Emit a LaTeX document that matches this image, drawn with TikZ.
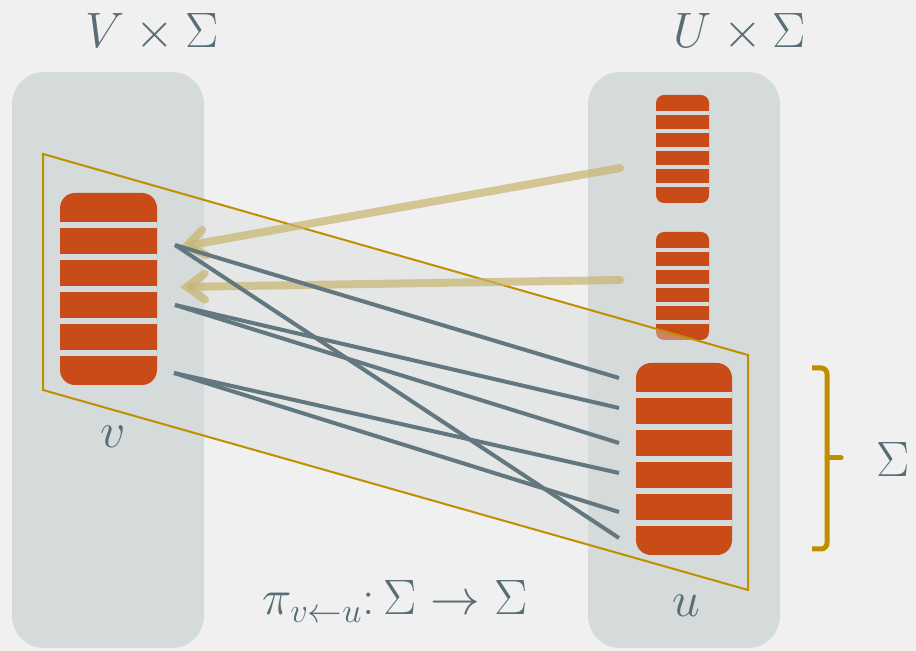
\documentclass[tikz,border=0pt]{standalone}
\usepackage{amsmath}
\usetikzlibrary{arrows.meta,calc}
\definecolor{bgcol}{RGB}{240,240,240}
\definecolor{colgrey}{RGB}{213,219,219}
\definecolor{blkorange}{RGB}{201,75,24}
\definecolor{planegold}{RGB}{191,143,0}
\definecolor{slate}{RGB}{98,119,127}
\definecolor{txtslate}{RGB}{88,110,118}
\definecolor{tan}{RGB}{200,180,110}
\def \fs{\fontsize{25}{30}\selectfont}

\begin{document}
\begin{tikzpicture}[x=0.5pt, y=-0.5pt,
    col/.style={fill=colgrey, rounded corners=16pt, minimum width=96pt, minimum height=288pt, inner sep=0pt},
    blk/.style={fill=blkorange, inner sep=0pt, outer sep=0pt},
    stripe/.style={draw=colgrey, line width=2.6pt},
    plane/.style={draw=planegold, line width=1pt, fill=colgrey, fill opacity=0.4},
    map/.style={draw=slate, line width=2pt},
    proj/.style={draw=tan, draw opacity=0.7, line width=4pt, line cap=round, -{Straight Barb[length=9pt,width=13pt,line cap=round]}},
    brace/.style={draw=planegold, line width=2.5pt, rounded corners=3pt},
    lbl/.style={text=txtslate, font=\fs, anchor=base, inner sep=0pt}]
    \fill[bgcol] (0,0) rectangle (916,651);
    \useasboundingbox (0,0) rectangle (916,651);
    % columns
    \node[col] (lcol) at (108,360) {};
    \node[col] (rcol) at (684,360) {};
    \node[lbl] (vtitle) at (152,48) {$V\times\Sigma$};
    \node[lbl] (utitle) at (740,48) {$U\times\Sigma$};
    % the other elements of U
    \node[blk, rounded corners=4pt, minimum width=26.5pt, minimum height=54pt] (s1) at (682.5,149) {};
    \node[blk, rounded corners=4pt, minimum width=26.5pt, minimum height=54pt] (s2) at (682.5,286) {};
    \foreach \b in {s1,s2}
      \foreach \i in {1,...,5}
        \draw[stripe, line width=2.2pt] ($(\b.north west)!\i/6!(\b.south west)$) -- ($(\b.north east)!\i/6!(\b.south east)$);
    % the constraint
    \draw[plane] (43,154) -- (748,355) -- (748,590) -- (43,390) -- cycle;
    \node[blk, rounded corners=7.5pt, minimum width=48.5pt, minimum height=96pt] (v) at (108.5,289) {};
    \node[blk, rounded corners=7.5pt, minimum width=48pt, minimum height=96pt] (u) at (684,459) {};
    \foreach \b in {v,u}
      \foreach \i in {1,...,5}
        \draw[stripe] ($(\b.north west)!\i/6!(\b.south west)$) -- ($(\b.north east)!\i/6!(\b.south east)$);
    \node[lbl] (vlab) at (113,448) {$v$};
    \node[lbl] (ulab) at (686,617) {$u$};
    % projections
    \coordinate (p1) at (620,168);
    \coordinate (p2) at (620,280);
    \coordinate (q1) at (180,247);
    \coordinate (q2) at (180,287);
    \draw[proj] (p1) -- (q1);
    \draw[proj] (p2) -- (q2);
    % the map
    \coordinate (v1) at (175,245);
    \coordinate (v2) at (175,305);
    \coordinate (v3) at (174,373);
    \coordinate (u1) at (619,378);
    \coordinate (u2) at (619,408);
    \coordinate (u3) at (619,443);
    \coordinate (u4) at (619,473);
    \coordinate (u5) at (619,512);
    \coordinate (u6) at (619,538);
    \draw[map] (v1) -- (u1);
    \draw[map] (v1) -- (u6);
    \draw[map] (v2) -- (u2);
    \draw[map] (v2) -- (u3);
    \draw[map] (v3) -- (u4);
    \draw[map] (v3) -- (u5);
    \node[lbl] (pi) at (395,615) {$\pi_{v\leftarrow u}{:}\,\Sigma\to\Sigma$};
    % brace
    \coordinate (bt) at (812,368);
    \coordinate (bb) at (812,549);
    \draw[brace] (bt) -- (827,368) -- (827,549) -- (bb);
    \coordinate (bm) at (827,458);
    \draw[brace, line cap=round] (bm) -- ++(14,0);
    \node[lbl] (sig) at (893,477) {$\Sigma$};
\end{tikzpicture}
\end{document}
